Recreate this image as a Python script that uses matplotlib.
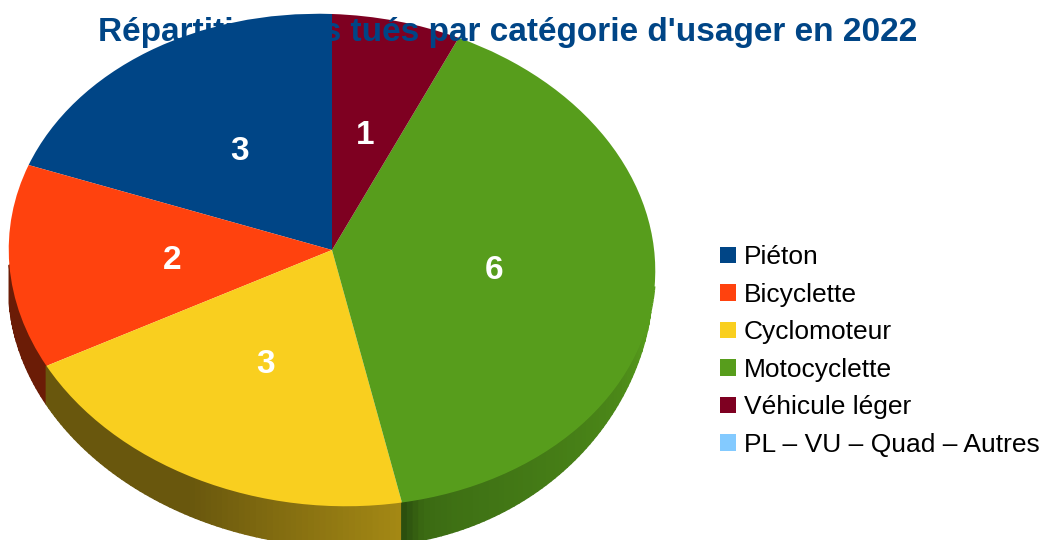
import numpy as np
import matplotlib
matplotlib.use('Agg')
import matplotlib.pyplot as plt
from matplotlib.collections import PolyCollection
from matplotlib.colors import to_rgb
from matplotlib.transforms import Affine2D, Transform

plt.rcParams['font.family'] = ['Liberation Sans', 'DejaVu Sans']

title = "Répartition des tués par catégorie d'usager en 2022"
categories = ['Piéton', 'Bicyclette', 'Cyclomoteur', 'Motocyclette', 'Véhicule léger', 'PL – VU – Quad – Autres']
values = [3, 2, 3, 6, 1, 0]
colors = ['#004586', '#ff420e', '#f9cf1f', '#579d1c', '#7e0021', '#83caff']

# pie position in pixels, with a small perspective and shear to fake the tilt
CX, CY = 332, 250
RX, RY = 323, 245.6
PERSP = 0.0407
SHEAR = 0.033


class TiltTransform(Transform):
    input_dims = 2
    output_dims = 2
    is_separable = False
    has_inverse = False

    def transform_non_affine(self, xy):
        xy = np.asarray(xy, dtype=float)
        w = 1 + PERSP * xy[:, 1]
        dx = RX * xy[:, 0] / w
        return np.column_stack((CX + dx, CY - RY * xy[:, 1] / w + SHEAR * dx))


# how dark the side is, by angle of the pie
def side_shade(angle, color_index):
    if color_index == 2:
        return np.interp(angle, [198, 245, 282], [0.42, 0.42, 0.66])
    if color_index == 3:
        return np.interp(angle, [282, 286, 292, 330, 345, 360], [0.48, 0.68, 0.72, 0.86, 1.0, 1.0])
    return 0.42


# the side gets thinner towards the right edge
def side_depth(x):
    right = np.clip((x - 400) / 250, 0, 1)
    return np.where(x < 400, 38 + 3 * x / 400, 41 * np.sqrt(1 - right ** 2))


def label_value(pct):
    n = round(pct * sum(values) / 100)
    return str(n) if n > 0 else ''


fig = plt.figure(figsize=(10.43, 5.4), dpi=100)
ax = fig.add_axes([0, 0, 1, 1])

wedges, texts, autotexts = ax.pie(values, colors=colors, startangle=90, autopct=label_value, pctdistance=0.5,
                                  textprops={'color': 'white', 'fontsize': 24, 'fontweight': 'bold'})
tilt = TiltTransform()
for w in wedges:
    w.set_transform(tilt + ax.transData)
    w.set_zorder(3)
for t in autotexts:
    t.set_transform(tilt + ax.transData + Affine2D().translate(0.7, -2.5))
    t.set_zorder(4)

# side of the pie, small quads along the rim (front part only)
quads = []
quad_colors = []
for i, w in enumerate(wedges):
    if w.theta2 <= w.theta1:
        continue
    angles = np.arange(w.theta1, w.theta2 + 0.5, 1.0)
    angles[-1] = w.theta2
    for a1, a2 in zip(angles[:-1], angles[1:]):
        mid = (a1 + a2) / 2
        if np.sin(np.radians(mid)) > -0.1:
            continue
        rim = tilt.transform_non_affine(np.array([[np.cos(np.radians(a1)), np.sin(np.radians(a1))],
                                                  [np.cos(np.radians(a2)), np.sin(np.radians(a2))]]))
        low = rim + np.column_stack((np.zeros(2), side_depth(rim[:, 0])))
        quads.append([rim[0], rim[1], low[1], low[0]])
        quad_colors.append(np.array(to_rgb(colors[i])) * side_shade(min(mid, 360), i))

ax.add_collection(PolyCollection(quads, facecolors=quad_colors, edgecolors=quad_colors, linewidths=1.2, zorder=2))

ax.set_aspect('auto')
ax.set_xlim(0, 1043)
ax.set_ylim(540, 0)
ax.axis('off')

fig.suptitle(title, x=507.5 / 1043, y=1 - 32.5 / 540, va='center', ha='center', fontsize=24, fontweight='bold', color='#004586')

ax.legend(wedges, categories, loc='center left', bbox_to_anchor=(720, 351), bbox_transform=ax.transData,
          frameon=False, fontsize=19, borderpad=0, borderaxespad=0, handlelength=0.6, handleheight=0.6,
          handletextpad=0.3, labelspacing=0.51)

fig.savefig('out.png', dpi=100)
